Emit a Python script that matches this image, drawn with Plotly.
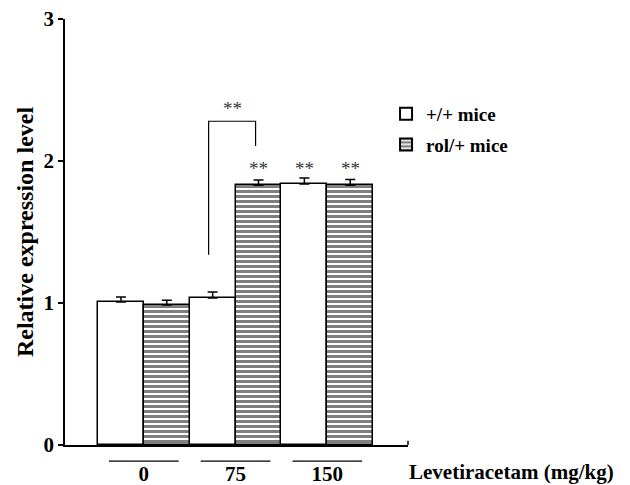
import plotly.graph_objects as go

doses = ["0", "75", "150"]
wt_values = [1.007, 1.035, 1.838]
wt_errors = [0.035, 0.042, 0.042]
rol_values = [0.986, 1.83, 1.83]
rol_errors = [0.034, 0.036, 0.04]
series_names = ["+/+ mice", "rol/+ mice"]
sig_label = "**"

FONT = "Liberation Serif"

fig = go.Figure()
fig.add_trace(go.Bar(
    name=series_names[0], x=doses, y=wt_values, legendgroup="a",
    marker=dict(color="white", line=dict(color="black", width=1.5)),
    error_y=dict(type="data", array=wt_errors, arrayminus=[0] * 3, symmetric=False,
                 color="black", thickness=1.5, width=5),
))
fig.add_trace(go.Bar(
    name=series_names[1], x=doses, y=rol_values, legendgroup="b",
    marker=dict(color="white", line=dict(color="black", width=1.5),
                pattern=dict(shape="-", size=5, solidity=0.6, fgcolor="black", bgcolor="white")),
    error_y=dict(type="data", array=rol_errors, arrayminus=[0] * 3, symmetric=False,
                 color="black", thickness=1.5, width=5),
))

# significance stars above bars (rol at 75, +/+ at 150, rol at 150)
star_pos = [(1, 0.25), (2, -0.25), (2, 0.25)]
for ci, off in star_pos:
    fig.add_annotation(x=ci + off, y=1.95, xref="x", yref="y", text=sig_label, showarrow=False,
                       font=dict(family=FONT, size=19, color="#333"))

# bracket between +/+ 75 and rol 75
fig.add_shape(type="path", xref="x", yref="y",
              path="M 0.706,1.34 L 0.706,2.28 L 1.218,2.28 L 1.218,2.105",
              line=dict(color="black", width=1.2))
fig.add_annotation(x=0.97, y=2.37, xref="x", yref="y", text=sig_label, showarrow=False,
                   font=dict(family=FONT, size=19, color="#333"))

# lines under categories
for ci in range(3):
    fig.add_shape(type="line", xref="x", yref="paper", x0=ci - 0.38, x1=ci + 0.38,
                  y0=-0.038, y1=-0.038, line=dict(color="black", width=1.2))

# small end tick on x-axis
fig.add_shape(type="line", xref="paper", yref="y", x0=1, x1=1, y0=0, y1=0.03,
              line=dict(color="black", width=1.5))

fig.add_annotation(x=1.0, y=-0.064, xref="paper", yref="paper", xanchor="left", yanchor="middle",
                   text="Levetiracetam (mg/kg)", showarrow=False, borderpad=0,
                   font=dict(family=FONT, size=21, color="black", weight="bold"))

# page body has an 8px margin: size the figure so the plot lands where the reference has it
fig.update_layout(
    width=622, height=477,
    margin=dict(l=57, r=222, t=11, b=40),
    plot_bgcolor="white", paper_bgcolor="white",
    barmode="group", bargap=0, bargroupgap=0,
    showlegend=True,
    legend=dict(x=0.936, y=0.822, xanchor="left", yanchor="top",
                font=dict(family=FONT, size=19, color="black", weight="bold"),
                itemsizing="constant", tracegroupgap=3, bgcolor="rgba(0,0,0,0)"),
    font=dict(family=FONT, color="black"),
    xaxis=dict(range=[-0.86, 2.88], showline=True, linecolor="black", linewidth=1.5,
               ticks="", showgrid=False, zeroline=False, ticklabelstandoff=9, automargin=False,
               ticklabeloverflow="allow",
               tickfont=dict(family=FONT, size=21, color="black", weight="bold")),
    yaxis=dict(range=[0, 3], tickvals=[0, 1, 2, 3], showline=True, linecolor="black", linewidth=1.5,
               ticks="outside", ticklen=5, tickwidth=1.5, tickcolor="black",
               showgrid=False, zeroline=False, automargin=False, ticklabeloverflow="allow",
               tickfont=dict(family=FONT, size=21, color="black", weight="bold"),
               title=dict(text="Relative expression level", standoff=3,
                          font=dict(family=FONT, size=24, color="black", weight="bold"))),
)

fig.write_html("out.html")
